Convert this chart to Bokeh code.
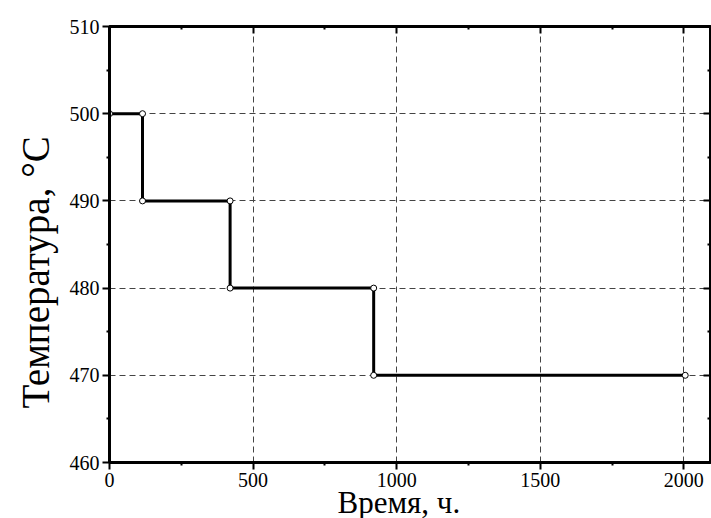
from bokeh.plotting import figure
from bokeh.models import Range1d, LinearAxis, Title, FixedTicker
from bokeh.embed import file_html
from bokeh.resources import INLINE

# Stepwise annealing schedule: temperature held, then lowered by 10 degrees
time_h = [0, 115, 115, 420, 420, 920, 920, 2005]
temp_c = [500, 500, 490, 490, 480, 480, 470, 470]

x_ticks = [0, 500, 1000, 1500, 2000]
y_ticks = [460, 470, 480, 490, 500, 510]

x_title = "Время, ч."
y_title = "Температура, °C"

FONT = "Liberation Serif"

p = figure(width=711, height=518, output_backend="svg", toolbar_location=None,
           x_range=Range1d(0, 2093), y_range=Range1d(460, 510),
           min_border_left=109, min_border_top=26, min_border_right=1,
           min_border_bottom=56)

p.background_fill_color = "white"
p.border_fill_color = "white"
p.outline_line_color = "black"
p.outline_line_width = 3

# grid
for g in (p.xgrid, p.ygrid):
    g.grid_line_color = "#444444"
    g.grid_line_dash = "6 4"
    g.grid_line_width = 1
p.xgrid.ticker = FixedTicker(ticks=x_ticks)
p.ygrid.ticker = FixedTicker(ticks=y_ticks)


def style_axis(ax, ticks, minor, labels=True, inward=False):
    ax.ticker = FixedTicker(ticks=ticks, minor_ticks=minor)
    ax.axis_line_width = 3
    ax.axis_line_color = "black"
    ax.major_tick_line_width = 2
    ax.minor_tick_line_width = 2
    ax.major_tick_line_color = "black"
    ax.minor_tick_line_color = "black"
    if inward:
        ax.major_tick_in, ax.major_tick_out = 7, 0
        ax.minor_tick_in, ax.minor_tick_out = 3, 0
    else:
        ax.major_tick_in, ax.major_tick_out = 0, 7
        ax.minor_tick_in, ax.minor_tick_out = 0, 3
    ax.major_label_text_font = FONT
    ax.major_label_text_color = "black"
    if labels:
        ax.major_label_text_font_size = "20px"
        ax.major_label_standoff = 3
    else:
        ax.major_label_text_font_size = "0px"
        ax.major_label_standoff = 0
        ax.major_label_text_alpha = 0


x_minor = [250, 750, 1250, 1750]
y_minor = [465, 475, 485, 495, 505]

style_axis(p.xaxis[0], x_ticks, x_minor)
style_axis(p.yaxis[0], y_ticks, y_minor)

top = LinearAxis()
style_axis(top, x_ticks, x_minor, labels=False, inward=True)
p.add_layout(top, "above")
right = LinearAxis()
style_axis(right, y_ticks, y_minor, labels=False, inward=True)
p.add_layout(right, "right")

# schedule line with open circle markers at each step
p.line(time_h, temp_c, line_color="black", line_width=3)
p.scatter(time_h, temp_c, size=6, fill_color="white", line_color="black",
          line_width=1)

# axis titles
p.add_layout(Title(text=x_title, text_font=FONT, text_font_size="31px",
                   text_font_style="normal", text_color="black",
                   align="left", offset=228, standoff=-14), "below")
p.add_layout(Title(text=y_title, text_font=FONT, text_font_size="39px",
                   text_font_style="normal", text_color="black",
                   align="left", offset=54, standoff=20), "left")

open("out.html", "w").write(file_html(p, INLINE))
